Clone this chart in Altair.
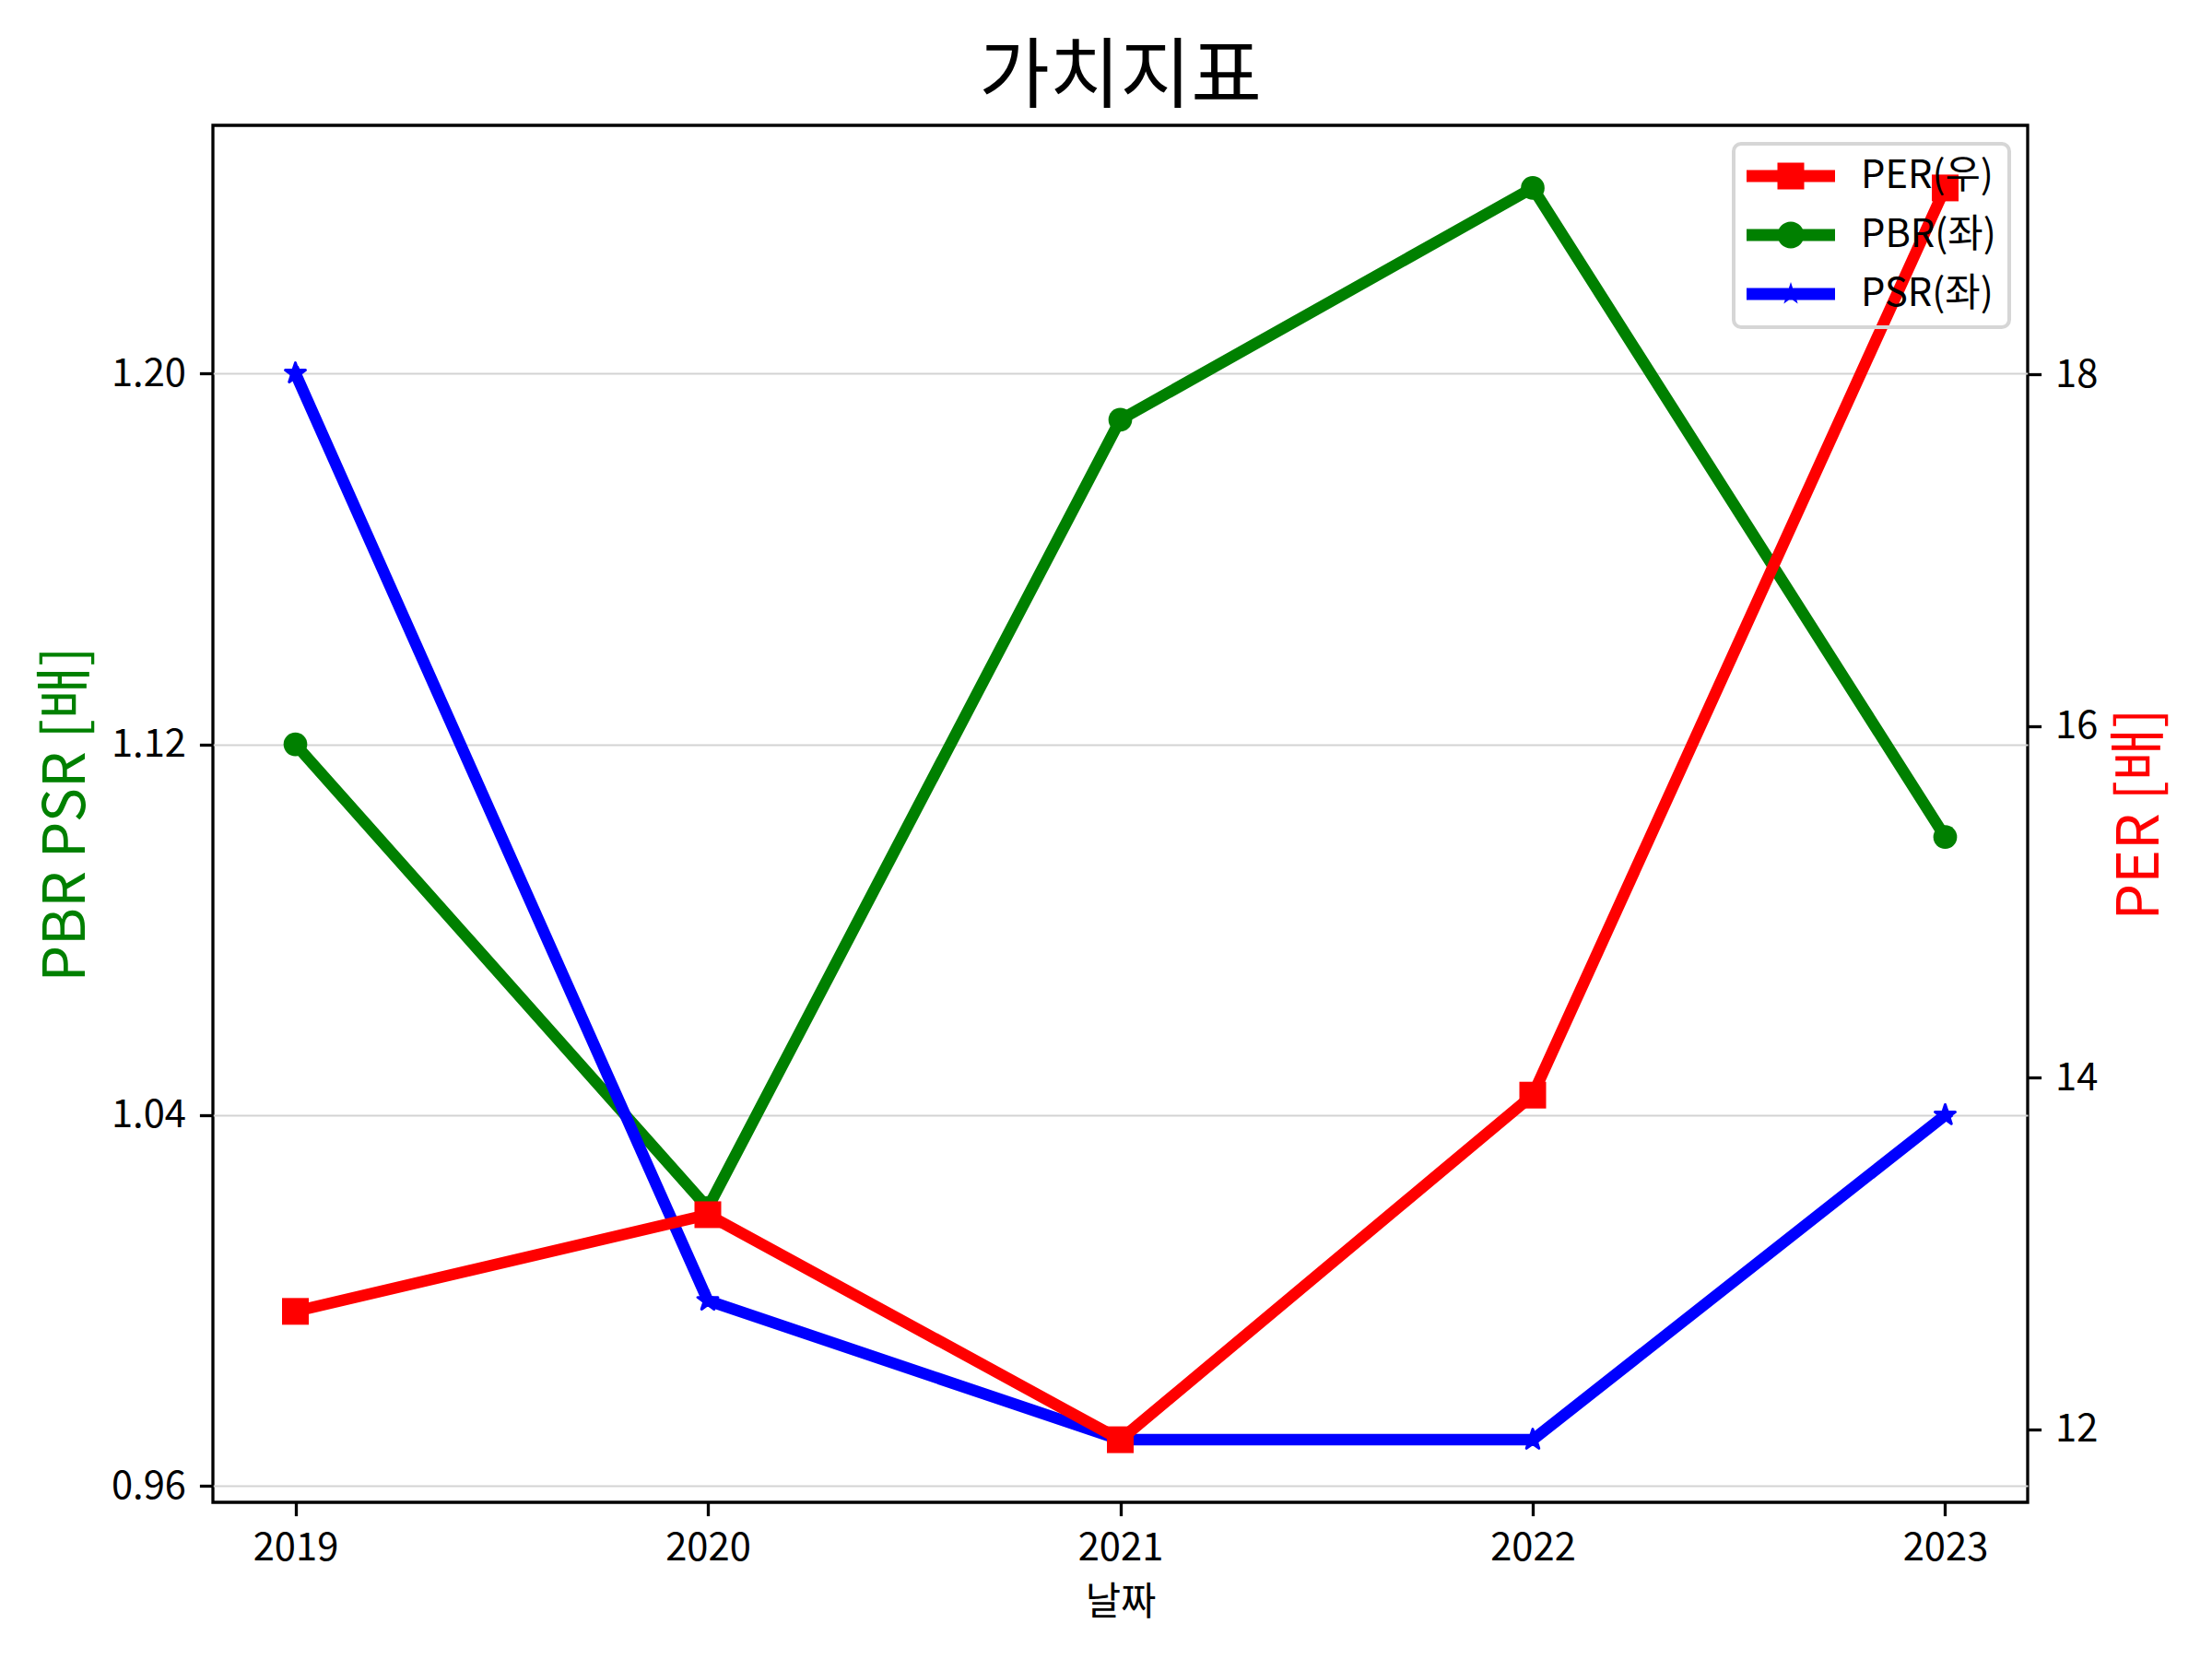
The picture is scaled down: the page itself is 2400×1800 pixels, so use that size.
import math
import altair as alt
import pandas as pd

# ---------------- data ----------------
years = [2019, 2020, 2021, 2022, 2023]
per_values = [12.67, 13.22, 11.94, 13.90, 19.06]
pbr_values = [1.12, 1.02, 1.19, 1.24, 1.10]
psr_values = [1.20, 1.00, 0.97, 0.97, 1.04]
series_names = ["PER(우)", "PBR(좌)", "PSR(좌)"]
series_colors = ["#ff0000", "#008000", "#0000ff"]
left_ticks = [0.96, 1.04, 1.12, 1.20]
right_ticks = [12, 14, 16, 18]

FONT = "Noto Sans CJK KR"
TICK_FS = 41.7
LABEL_FS = 62.5
TITLE_FS = 83.3
LW = 12.5
W, H = 1969, 1494


def star_path(r_out, r_in_ratio=0.382, cx=0.0, cy=0.0):
    pts = []
    for k in range(10):
        a = -math.pi / 2 + k * math.pi / 5
        r = r_out if k % 2 == 0 else r_out * r_in_ratio
        pts.append((cx + r * math.cos(a), cy + r * math.sin(a)))
    d = "M" + " L".join(f"{x:.4f},{y:.4f}" for x, y in pts) + " Z"
    return d


# legend symbol paths: symbol box of 42 px, i.e. 21 px per path unit
SYM = 42.0
U = SYM / 2
hl = 48 / U          # half length of the handle line
t = 6.5 / U          # half thickness of the handle line
s = 14.5 / U         # half side of the square / circle radius
line_d = f"M{-hl:.4f},{-t:.4f} H{hl:.4f} V{t:.4f} H{-hl:.4f} Z"
sq_d = f"M{-s:.4f},{-s:.4f} H{s:.4f} V{s:.4f} H{-s:.4f} Z"
circ_d = f"M{-s:.4f},0 A{s:.4f},{s:.4f} 0 1,1 {s:.4f},0 A{s:.4f},{s:.4f} 0 1,1 {-s:.4f},0 Z"
st_d = star_path(13.0 / U)
legend_paths = [line_d + " " + sq_d, line_d + " " + circ_d, line_d + " " + st_d]
plot_star = star_path(1.0)

pbr_df = pd.DataFrame({"year": years, "value": pbr_values})
psr_df = pd.DataFrame({"year": years, "value": psr_values})
per_df = pd.DataFrame({"year": years, "per": per_values})
leg_df = pd.DataFrame({"series": series_names})

x_enc = alt.X(
    "year:Q",
    scale=alt.Scale(domain=[2018.8, 2023.2], nice=False, zero=False),
    axis=alt.Axis(
        values=years, format="d", title="날짜", grid=False, domain=False,
        labelFontSize=TICK_FS, labelPadding=15, tickSize=14.6, tickWidth=3.3,
        tickColor="black", labelColor="black", titleFontSize=TICK_FS,
        titleFontWeight="normal", titleColor="black", titleX=W / 2, titleY=108,
        titleBaseline="middle", titleAlign="center", labelFlush=False,
    ),
)

y_left = alt.Y(
    "value:Q",
    scale=alt.Scale(domain=[0.9565, 1.2535], nice=False, zero=False),
    axis=alt.Axis(
        values=left_ticks, format=".2f", title="PBR PSR [배]", grid=True,
        gridColor="#d3d3d3", gridWidth=2, domain=False,
        labelFontSize=TICK_FS, labelPadding=15, tickSize=14.6, tickWidth=3.3,
        tickColor="black", labelColor="black", titleFontSize=LABEL_FS,
        titleFontWeight="normal", titleColor="green", titleX=-159, titleY=H / 2,
        titleAngle=270, titleBaseline="middle", titleAlign="center",
    ),
)

y_right = alt.Y(
    "per:Q",
    scale=alt.Scale(domain=[11.584, 19.416], nice=False, zero=False),
    axis=alt.Axis(
        orient="right", values=right_ticks, format="d", title="PER [배]", grid=False,
        domain=False, labelFontSize=TICK_FS, labelPadding=15, tickSize=14.6,
        tickWidth=3.3, tickColor="black", labelColor="black",
        titleFontSize=LABEL_FS, titleFontWeight="normal", titleColor="red",
        titleX=122, titleY=H / 2, titleAngle=270, titleBaseline="middle",
        titleAlign="center",
    ),
)

line_kw = dict(strokeWidth=LW, strokeJoin="round", strokeCap="square")

pbr_line = alt.Chart(pbr_df).mark_line(color=series_colors[1], **line_kw).encode(x=x_enc, y=y_left)
pbr_pts = alt.Chart(pbr_df).mark_point(
    shape="circle", filled=True, size=660, color=series_colors[1], opacity=1
).encode(x="year:Q", y="value:Q")
psr_line = alt.Chart(psr_df).mark_line(color=series_colors[2], **line_kw).encode(x="year:Q", y="value:Q")
psr_pts = alt.Chart(psr_df).mark_point(
    shape=plot_star, filled=True, size=529, color=series_colors[2], opacity=1,
    stroke=series_colors[2], strokeWidth=3, strokeJoin="round",
).encode(x="year:Q", y="value:Q")

legend = alt.Legend(
    title=None, orient="top-right", offset=20, padding=14, rowPadding=21,
    symbolOffset=27, labelOffset=55, labelFontSize=TICK_FS, labelFont=FONT,
    labelColor="black", symbolSize=SYM * SYM, symbolStrokeWidth=0, symbolOpacity=1,
    strokeColor="#d6d6d6", cornerRadius=8, labelLimit=600,
)
legend_helper = alt.Chart(leg_df).mark_point(filled=True, opacity=0, size=10).encode(
    x=alt.value(0),
    y=alt.value(0),
    color=alt.Color("series:N", scale=alt.Scale(domain=series_names, range=series_colors), legend=legend),
    shape=alt.Shape("series:N", scale=alt.Scale(domain=series_names, range=legend_paths), legend=legend),
)

left = alt.layer(pbr_line, pbr_pts, psr_line, psr_pts, legend_helper)

per_line = alt.Chart(per_df).mark_line(color=series_colors[0], **line_kw).encode(x="year:Q", y=y_right)
per_pts = alt.Chart(per_df).mark_point(
    shape="square", filled=True, size=841, color=series_colors[0], opacity=1
).encode(x="year:Q", y="per:Q")
right = alt.layer(per_line, per_pts)

chart = (
    alt.layer(left, right)
    .resolve_scale(y="independent")
    .properties(
        width=W, height=H,
        title=alt.TitleParams("가치지표", fontSize=TITLE_FS, font=FONT, fontWeight="normal",
                              color="black", anchor="middle", offset=8),
        autosize=alt.AutoSizeParams(type="none"),
        padding={"left": 223, "top": 128, "right": 170, "bottom": 150},
        background="white",
    )
    .configure(font=FONT)
    .configure_view(stroke="black", strokeWidth=3.3)
    .configure_legend(strokeWidth=4)
)

chart.save("out.html", embed_options={"renderer": "svg", "actions": False})
